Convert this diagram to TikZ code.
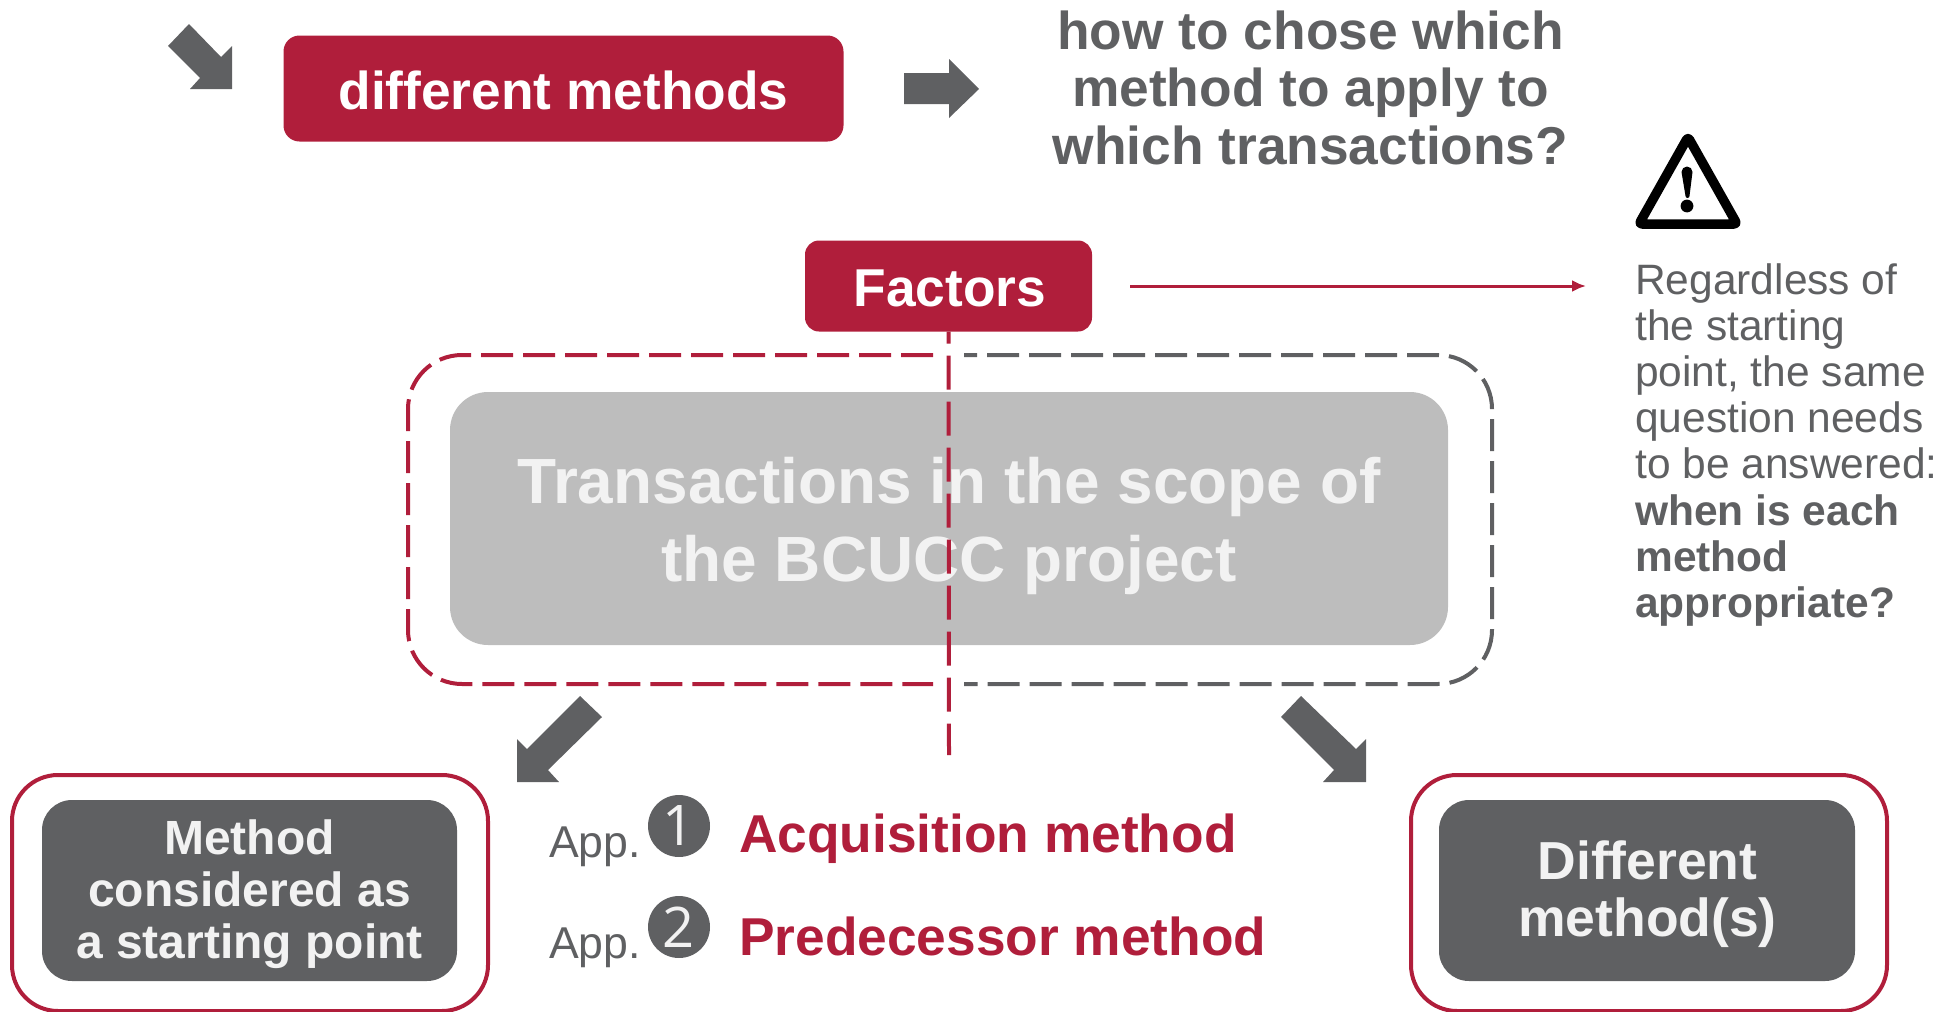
\documentclass[tikz,border=0pt]{standalone}
\usepackage{fontspec}
\setmainfont{Liberation Sans}
\newfontfamily\digitfont{Open Sans}
\usetikzlibrary{arrows.meta}
\definecolor{wine}{HTML}{B01E3B}
\definecolor{slate}{HTML}{5F6062}
\definecolor{softgrey}{HTML}{BDBDBD}
\definecolor{paper}{HTML}{F2F2F2}
\newcommand\fsz[2]{\fontsize{#1}{#2}\selectfont}
\tikzset{
  redbox/.style={inner sep=0pt,fill=wine},
  darkbox/.style={inner sep=0pt,fill=slate,rounded corners=30pt,minimum height=181pt},
  outerbox/.style={inner sep=0pt,draw=wine,line width=4pt,rounded corners=46pt,minimum height=236pt},
  boxtext/.style={inner sep=0pt,align=center},
  blockarrow/.style={fill=slate,draw=none},
  halfdash/.style={line width=4pt,dash pattern=on 32pt off 10pt},
  numdot/.style={circle,fill=slate,text=paper,inner sep=0pt,minimum size=62pt,font=\digitfont\fsz{56}{60}},
  applabel/.style={inner sep=0pt,anchor=base west,text=slate,font=\fsz{44.6}{48}},
  methodlabel/.style={inner sep=0pt,anchor=base west,text=wine,font=\fsz{53.3}{60}\bfseries}
}
\begin{document}
\begin{tikzpicture}[x=1pt,y=-1pt]
\useasboundingbox (0,0) rectangle (1947,1012);
% top row
\fill[blockarrow] (189,24)--(168,46)--(200,78)--(190,89)--(232,89)--(232,46)--(221,57)--cycle;
\node[redbox,rounded corners=16pt,minimum width=560pt,minimum height=106pt] (diff) at (563.5,88.5) {};
\node[boxtext,text=white,font=\fsz{53.3}{60}\bfseries] (difftext) at (563.5,90.2) {different methods};
\fill[blockarrow] (904,73)--(949,73)--(949,59)--(979,89)--(949,118)--(949,104)--(904,104)--cycle;
\node[boxtext,text=slate,font=\fsz{53.3}{57.5}\bfseries] (question) at (1310.5,87.8) {how to chose which\\method to apply to\\which transactions?};
% warning sign
\draw[black,line width=9.5pt,line join=round,rounded corners=3pt] (1688,137)--(1639,224)--(1737,224)--cycle;
\fill[black] (1681.5,172) arc[start angle=180,end angle=360,radius=5.5] -- (1689.5,196) arc[start angle=0,end angle=180,radius=2] -- cycle;
\fill[black] (1687,206) circle[radius=6.4];
% factors
\node[redbox,rounded corners=14pt,minimum width=287pt,minimum height=91pt] (factors) at (948.5,286) {};
\node[boxtext,text=white,font=\fsz{53.3}{60}\bfseries] (factorstext) at (950,288.5) {Factors};
\coordinate (warnstart) at (1130,286);
\coordinate (warnend) at (1586,286);
\draw[wine,line width=3pt,-{Latex[length=14pt,width=12pt]}] (warnstart)--(warnend);
\node[inner sep=0pt,anchor=north west,align=left,text=slate,font=\fsz{42.5}{46.2}] (note) at (1635,263) {Regardless of\\the starting\\point, the same\\question needs\\to be answered:\\\textbf{when is each}\\\textbf{method}\\\textbf{appropriate?}};
% scope
\node[inner sep=0pt,fill=softgrey,minimum width=998pt,minimum height=253pt,rounded corners=38pt] (scope) at (949,518.5) {};
\node[boxtext,text=paper,font=\fsz{63.9}{77.5}\bfseries] (scopetext) at (949,526) {Transactions in the scope of\\the BCUCC project};
\draw[slate,halfdash,dash phase=19pt] (964,355)--(1438,355) arc[start angle=-90,end angle=0,radius=54]--(1492,630) arc[start angle=0,end angle=90,radius=54]--(964,684);
\draw[wine,halfdash] (933,355)--(462,355) arc[start angle=270,end angle=180,radius=54]--(408,630) arc[start angle=180,end angle=90,radius=54]--(933,684);
\coordinate (axisend) at (949,755);
\draw[wine,line width=4pt,dash pattern=on 34pt off 12pt,dash phase=22pt] (factors.south)--(axisend);
% down arrows
\fill[blockarrow] (580,696)--(602,717)--(548,770)--(559,782)--(517,782)--(517,739)--(527,749)--cycle;
\fill[blockarrow] (1301,696)--(1281,717)--(1334,770)--(1323,782)--(1366,782)--(1366,739)--(1356,749)--cycle;
% bottom left
\node[outerbox,minimum width=476pt] (startframe) at (250,893) {};
\node[darkbox,minimum width=415pt] (start) at (249.5,890.5) {};
\node[boxtext,text=paper,font=\fsz{48}{52}\bfseries] (starttext) at (249.5,894.2) {Method\\considered as\\a starting point};
% bottom right
\node[outerbox,minimum width=476pt] (otherframe) at (1649,893) {};
\node[darkbox,minimum width=416pt] (other) at (1647,890.5) {};
\node[boxtext,text=paper,font=\fsz{53.5}{57}\bfseries] (othertext) at (1647.5,894.2) {Different\\method(s)};
% middle list
\node[applabel] (app1) at (549,857) {App.};
\node[numdot] (one) at (679,826) {1};
\node[methodlabel] (acq) at (739,852) {Acquisition method};
\node[applabel] (app2) at (549,958) {App.};
\node[numdot] (two) at (679,927) {2};
\node[methodlabel] (pred) at (739,955) {Predecessor method};
\end{tikzpicture}
\end{document}
